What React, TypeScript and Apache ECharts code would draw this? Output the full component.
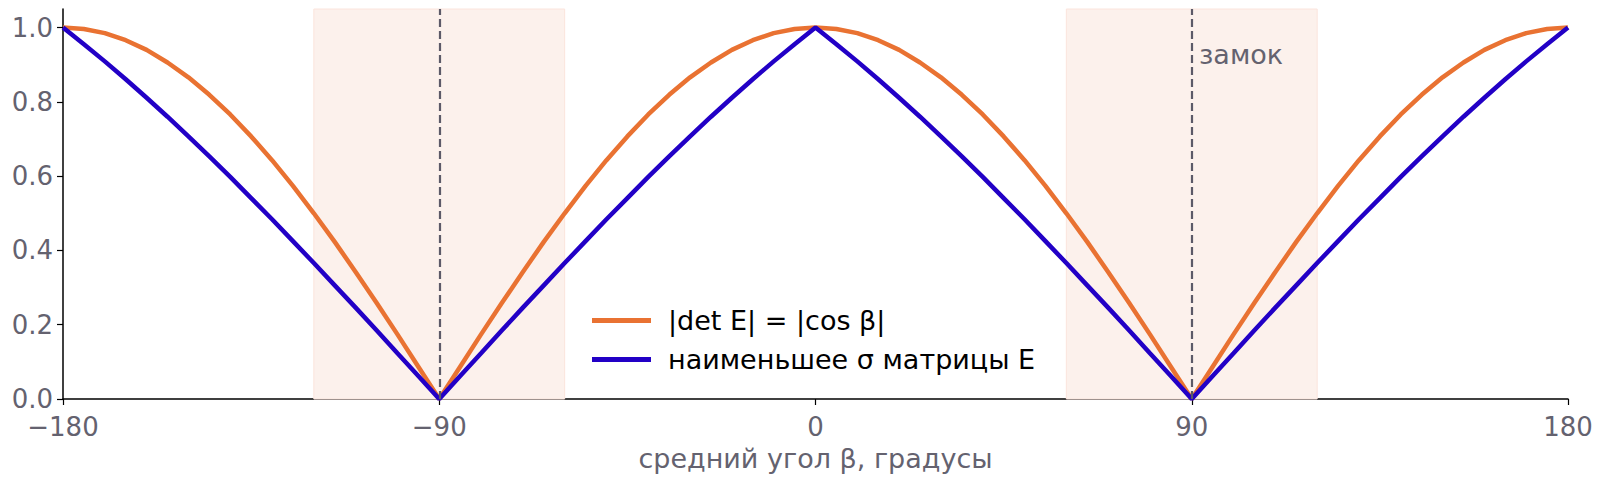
import React, { useEffect, useRef } from 'react'
import * as echarts from 'echarts'
import type { ECharts, EChartsOption } from 'echarts'

// средний угол β, градусы (шаг 5°)
const angles = [
  -180, -175, -170, -165, -160, -155, -150, -145, -140, -135, -130, -125, -120, -115, -110, -105, -100, -95, -90,
  -85, -80, -75, -70, -65, -60, -55, -50, -45, -40, -35, -30, -25, -20, -15, -10, -5, 0,
  5, 10, 15, 20, 25, 30, 35, 40, 45, 50, 55, 60, 65, 70, 75, 80, 85, 90,
  95, 100, 105, 110, 115, 120, 125, 130, 135, 140, 145, 150, 155, 160, 165, 170, 175, 180,
]

// |det E| = |cos β|
const detValues = [
  1.0, 0.996, 0.985, 0.966, 0.94, 0.906, 0.866, 0.819, 0.766, 0.707, 0.643, 0.574, 0.5, 0.423, 0.342, 0.259, 0.174, 0.087, 0.0,
  0.087, 0.174, 0.259, 0.342, 0.423, 0.5, 0.574, 0.643, 0.707, 0.766, 0.819, 0.866, 0.906, 0.94, 0.966, 0.985, 0.996, 1.0,
  0.996, 0.985, 0.966, 0.94, 0.906, 0.866, 0.819, 0.766, 0.707, 0.643, 0.574, 0.5, 0.423, 0.342, 0.259, 0.174, 0.087, 0.0,
  0.087, 0.174, 0.259, 0.342, 0.423, 0.5, 0.574, 0.643, 0.707, 0.766, 0.819, 0.866, 0.906, 0.94, 0.966, 0.985, 0.996, 1.0,
]

// наименьшее σ матрицы E
const sigmaValues = [
  1.0, 0.955, 0.909, 0.861, 0.811, 0.76, 0.707, 0.653, 0.598, 0.541, 0.484, 0.425, 0.366, 0.306, 0.246, 0.185, 0.123, 0.062, 0.0,
  0.062, 0.123, 0.185, 0.246, 0.306, 0.366, 0.425, 0.484, 0.541, 0.598, 0.653, 0.707, 0.76, 0.811, 0.861, 0.909, 0.955, 1.0,
  0.955, 0.909, 0.861, 0.811, 0.76, 0.707, 0.653, 0.598, 0.541, 0.484, 0.425, 0.366, 0.306, 0.246, 0.185, 0.123, 0.062, 0.0,
  0.062, 0.123, 0.185, 0.246, 0.306, 0.366, 0.425, 0.484, 0.541, 0.598, 0.653, 0.707, 0.76, 0.811, 0.861, 0.909, 0.955, 1.0,
]

const xTicks = [-180, -90, 0, 90, 180]
const yTicks = [0, 0.2, 0.4, 0.6, 0.8, 1.0]
const lockLines = [-90, 90]
const shadedBands = [
  [-120, -60],
  [60, 120],
]

const FONT = '"DejaVu Sans", sans-serif'
const GRAY = '#64626f'

export default function App() {
  const chartRef = useRef<HTMLDivElement | null>(null)
  const chartInstance = useRef<ECharts | null>(null)

  useEffect(() => {
    const fmtX = (v: number) => (v < 0 ? '\u2212' + Math.abs(v) : String(v))

    const option: EChartsOption = {
      animation: false,
      backgroundColor: '#ffffff',
      textStyle: { fontFamily: FONT },
      grid: { left: 63, right: 32, top: 9, bottom: 84 },
      legend: {
        orient: 'vertical',
        left: 587,
        top: 300,
        icon: 'rect',
        itemWidth: 59,
        itemHeight: 5,
        itemGap: 8,
        textStyle: { fontFamily: FONT, fontSize: 27, color: '#000000', lineHeight: 31, padding: [0, 0, 0, 12] },
        data: ['|det E| = |cos β|', 'наименьшее σ матрицы E'],
      },
      xAxis: {
        type: 'value',
        min: -180,
        max: 180,
        interval: 90,
        name: 'средний угол β, градусы',
        nameLocation: 'middle',
        nameGap: 46,
        nameTextStyle: { fontFamily: FONT, fontSize: 27, color: GRAY },
        axisLine: { show: true, onZero: false, lineStyle: { color: '#000000', width: 1.5 } },
        axisTick: { show: true, length: 6, lineStyle: { color: '#000000', width: 1.2 }, customValues: xTicks },
        axisLabel: {
          fontFamily: FONT,
          fontSize: 26,
          lineHeight: 22,
          color: GRAY,
          margin: 17,
          formatter: fmtX,
          customValues: xTicks,
        },
        splitLine: { show: false },
      },
      yAxis: {
        type: 'value',
        min: 0,
        max: 1.05,
        interval: 0.2,
        axisLine: { show: true, onZero: false, lineStyle: { color: '#000000', width: 1.5 } },
        axisTick: { show: true, length: 6, lineStyle: { color: '#000000', width: 1.2 }, customValues: yTicks },
        axisLabel: {
          fontFamily: FONT,
          fontSize: 26,
          lineHeight: 22,
          color: GRAY,
          margin: 10,
          formatter: (v: number) => v.toFixed(1),
          customValues: yTicks,
        },
        splitLine: { show: false },
      },
      series: [
        {
          name: '|det E| = |cos β|',
          type: 'line',
          symbol: 'none',
          color: '#e97232',
          lineStyle: { color: '#e97232', width: 4.5 },
          data: angles.map((a, i) => [a, detValues[i]]),
          markArea: {
            silent: true,
            itemStyle: { color: '#fcf1ec', borderColor: '#fbe4dc', borderWidth: 1 },
            data: shadedBands.map(([a, b]) => [{ xAxis: a }, { xAxis: b }]) as any,
          },
          markLine: {
            silent: true,
            symbol: 'none',
            label: { show: false },
            lineStyle: { color: '#5c5a68', type: [8, 4], width: 2.2 },
            data: lockLines.map((x) => ({ xAxis: x })),
          },
          z: 2,
        },
        {
          name: 'наименьшее σ матрицы E',
          type: 'line',
          symbol: 'none',
          color: '#2200c6',
          lineStyle: { color: '#2200c6', width: 4.5 },
          data: angles.map((a, i) => [a, sigmaValues[i]]),
          z: 3,
        },
      ],
      graphic: [
        {
          type: 'text',
          left: 1199,
          top: 41,
          z: 100,
          style: { text: 'замок', fontFamily: FONT, fontSize: 27, fill: GRAY },
        },
      ],
    }

    if (chartRef.current) {
      chartInstance.current = echarts.init(chartRef.current, null, { renderer: 'svg' })
      chartInstance.current.setOption(option)
    }

    return () => {
      chartInstance.current?.dispose()
    }
  }, [])

  return (
    <div
      ref={chartRef}
      style={{ position: 'fixed', left: 0, top: 0, width: '1600px', height: '483px', background: '#ffffff' }}
    />
  )
}
